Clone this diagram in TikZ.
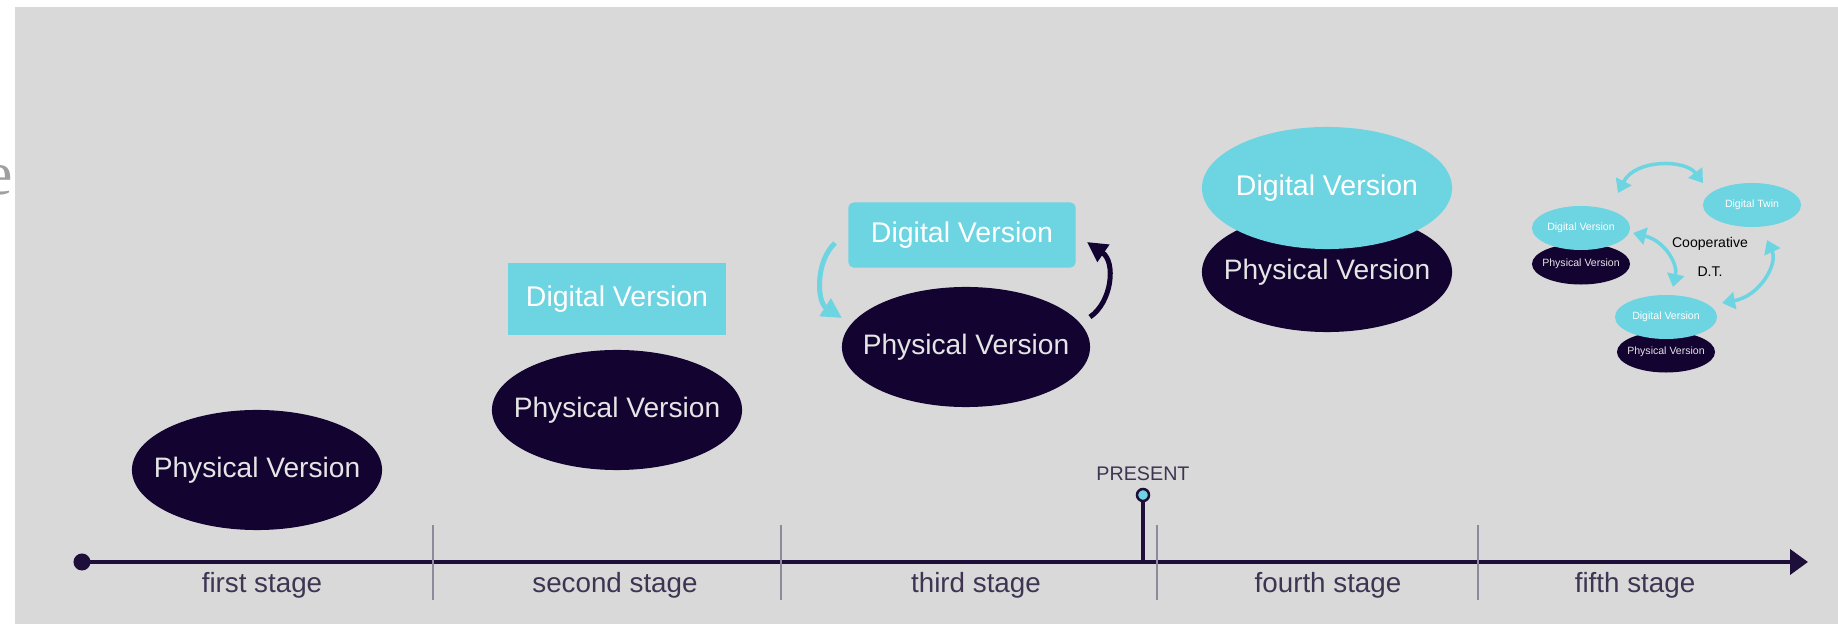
\documentclass[tikz,border=0pt]{standalone}
\usepackage{xcolor}
\usepackage{fontspec}
\setmainfont{Liberation Sans}
\newfontfamily\serifface{Liberation Serif}
\usepackage{tikz}
\usetikzlibrary{positioning, arrows.meta, shapes.geometric}
\definecolor{panelgray}{HTML}{D9D9D9}
\definecolor{physfill}{HTML}{130330}
\definecolor{digifill}{HTML}{6DD4E2}
\definecolor{linecol}{HTML}{1E0F3A}
\definecolor{tickcol}{HTML}{8E8A9C}
\definecolor{stagecol}{HTML}{3E3552}
\tikzset{
    x=0.01cm, y=0.01cm, % one unit is one pixel of the picture
    bigfont/.style={font=\fontsize{8}{9}\selectfont},
    tinyfont/.style={font=\fontsize{3}{3.5}\selectfont},
    physical/.style={ellipse, fill=physfill, inner sep=0pt, minimum width=2.5cm, minimum height=1.2cm,
        label={[bigfont, text=white!90!black]center:#1}}, % dark ellipse, text put on as a label
    digital/.style={ellipse, fill=digifill, inner sep=0pt, minimum width=2.5cm, minimum height=1.22cm,
        label={[font=\fontsize{8.1}{9}\selectfont, text=white]center:#1}},
    smallphys/.style={ellipse, fill=physfill, inner sep=0pt, minimum width=0.98cm, minimum height=0.41cm,
        label={[tinyfont, text=white!90!black]center:#1}},
    smalldig/.style={ellipse, fill=digifill, inner sep=0pt, minimum width=0.98cm, minimum height=0.44cm,
        label={[tinyfont, text=white]center:#1}},
    digibox/.style={rectangle, fill=digifill, text=white, inner sep=0pt, minimum width=2.18cm, minimum height=0.72cm,
        font=\fontsize{8.1}{9}\selectfont},
    stagelabel/.style={text=stagecol, inner sep=0pt, font=\fontsize{7.9}{9}\selectfont},
    timeline/.style={draw=linecol, line width=0.04cm, -{Triangle[length=0.18cm, width=0.25cm]}},
    tick/.style={draw=tickcol, line width=0.02cm},
    startdot/.style={circle, fill=linecol, inner sep=0pt, minimum size=0.17cm},
    nowdot/.style={circle, draw=linecol, fill=digifill, line width=0.025cm, inner sep=0pt, minimum size=0.12cm},
    stem/.style={draw=linecol, line width=0.04cm},
    nowlabel/.style={text=stagecol, inner sep=0pt, font=\fontsize{5.6}{6}\selectfont},
    twoway/.style={draw=digifill, line width=0.035cm,
        {Triangle[length=0.13cm, width=0.17cm]}-{Triangle[length=0.13cm, width=0.17cm]}},
}
\tikzstyle{backflow} = [draw=digifill, line width=0.05cm, -{Triangle[length=0.2cm, width=0.2cm]}]
\tikzstyle{upflow} = [draw=physfill, line width=0.05cm, -{Triangle[length=0.2cm, width=0.2cm]}]

\begin{document}
\begin{tikzpicture}
    \useasboundingbox (0,0) rectangle (1838,624);
    \fill[panelgray] (15,0) rectangle (1838,617);
    \node[anchor=base east, inner sep=0pt, text=gray!75, font=\serifface\fontsize{17.5}{20}\selectfont] (cutword) at (14,429) {e};

    % time line
    \node[startdot] (start) at (82,62) {};
    \coordinate (end) at (1808,62);
    \draw[timeline] (start.center) -- (end);
    \foreach \x in {433,781,1157,1478}
        \draw[tick] (\x,24) -- (\x,99);
    \node[stagelabel] (stage1) at (262,39) {first stage};
    \node[stagelabel] (stage2) at (615,39) {second stage};
    \node[stagelabel] (stage3) at (976,39) {third stage};
    \node[stagelabel] (stage4) at (1328,39) {fourth stage};
    \node[stagelabel] (stage5) at (1635,39) {fifth stage};

    % present marker
    \node[nowdot] (now) at (1143,129) {};
    \draw[stem] (now) -- (now |- start);
    \node[nowlabel, above=0.06cm of now] (nowtext) {PRESENT};

    % first stage
    \node[physical=Physical Version] (phys1) at (257,154) {};

    % second stage
    \node[digibox] (dig2) at (617,325) {Digital Version};
    \node[physical=Physical Version] (phys2) at (617,214) {};

    % third stage
    \node[digibox, rounded corners=0.05cm, minimum width=2.27cm, minimum height=0.65cm] (dig3) at (962,389) {Digital Version};
    \node[physical=Physical Version, minimum width=2.48cm] (phys3) at (966,277) {};
    \coordinate (down1) at (835,381);
    \coordinate (down2) at (842,306);
    \coordinate (up1) at (1090,307);
    \coordinate (up2) at (1087,382);
    \draw[backflow] (down1) .. controls (815,362) and (817,322) .. (down2);
    \draw[upflow] (up1) .. controls (1112,322) and (1116,362) .. (up2);

    % fourth stage
    \node[physical=Physical Version] (phys4) at (1327,352) {};
    \node[digital=Digital Version] (dig4) at (1327,436) {};

    % fifth stage
    \node[smallphys=Physical Version] (phys5a) at (1581,360) {};
    \node[smalldig=Digital Version] (dig5a) at (1581,396) {};
    \node[smalldig=Digital Twin] (twin) at (1752,419) {};
    \node[smallphys=Physical Version] (phys5b) at (1666,272) {};
    \node[smalldig=Digital Version, minimum width=1.02cm] (dig5b) at (1666,307) {};
    \node[align=center, inner sep=0pt, font=\fontsize{4}{8.2}\selectfont] (coop) at (1710,367) {Cooperative\\D.T.};
    \coordinate (top1) at (1618,431);
    \coordinate (top2) at (1703,441);
    \coordinate (mid1) at (1633,391);
    \coordinate (mid2) at (1673,337);
    \coordinate (side1) at (1767,384);
    \coordinate (side2) at (1722,321);
    \draw[twoway] (top1) .. controls (1635,465) and (1685,465) .. (top2);
    \draw[twoway] (mid1) .. controls (1665,383) and (1678,360) .. (mid2);
    \draw[twoway] (side1) .. controls (1778,360) and (1760,328) .. (side2);
\end{tikzpicture}
\end{document}
